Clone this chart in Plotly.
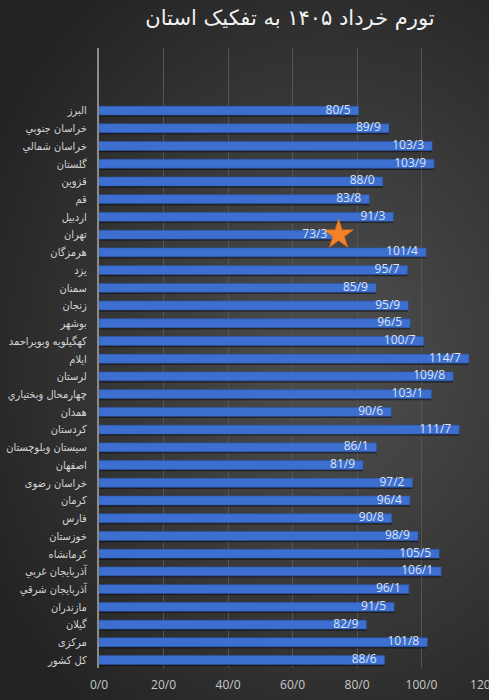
import plotly.graph_objects as go

provinces = ["البرز", "خراسان جنوبي", "خراسان شمالي", "گلستان", "قزوين", "قم", "اردبيل", "تهران",
             "هرمزگان", "يزد", "سمنان", "زنجان", "بوشهر", "کهگيلويه وبويراحمد", "ايلام", "لرستان",
             "چهارمحال وبختياري", "همدان", "کردستان", "سيستان وبلوچستان", "اصفهان", "خراسان رضوی",
             "کرمان", "فارس", "خوزستان", "کرمانشاه", "آذربايجان غربي", "آذربايجان شرقي", "مازندران",
             "گيلان", "مرکزی", "کل کشور"]
inflation = [80.5, 89.9, 103.3, 103.9, 88.0, 83.8, 91.3, 73.3,
             101.4, 95.7, 85.9, 95.9, 96.5, 100.7, 114.7, 109.8,
             103.1, 90.6, 111.7, 86.1, 81.9, 97.2,
             96.4, 90.8, 98.9, 105.5, 106.1, 96.1, 91.5,
             82.9, 101.8, 88.6]
x_ticks = [0, 20, 40, 60, 80, 100, 120]
x_tick_labels = ["0/0", "20/0", "40/0", "60/0", "80/0", "100/0", "120/0"]
highlight = "تهران"
title_text = "تورم خرداد ۱۴۰۵ به تفکیک استان"

labels = [f"{v:.1f}".replace(".", "/") for v in inflation]
label_pad = 2.5  # data units between bar end and its label

fig = go.Figure()
# soft shadow under each bar
fig.add_trace(go.Bar(
    x=inflation, y=provinces, orientation="h",
    width=0.5, offset=-0.15,
    marker=dict(color="rgba(0,0,0,0.45)", line=dict(width=0)),
    hoverinfo="skip",
))
fig.add_trace(go.Bar(
    x=inflation, y=provinces, orientation="h",
    width=0.5, offset=-0.25,
    marker=dict(color="#3d6fd1", line=dict(color="#2c57ad", width=0.6)),
    hoverinfo="skip",
))
hi = provinces.index(highlight)
fig.add_trace(go.Scatter(
    x=[inflation[hi] + 1], y=[provinces[hi]], mode="markers",
    marker=dict(symbol="star", size=22, color="#f2812a", line=dict(color="#e06d18", width=0.8)),
    hoverinfo="skip", cliponaxis=False,
))
fig.add_trace(go.Scatter(
    x=[v - label_pad for v in inflation], y=provinces, mode="text", text=labels,
    textposition="middle left",
    textfont=dict(family="Open Sans, DejaVu Sans", size=12, color="#dde4f0"),
    hoverinfo="skip", cliponaxis=False,
))

shapes = []
n = 40
for i in range(n):
    r = 1.0 - i * 0.022
    cx, cy = 0.6, 0.5
    shapes.append(dict(type="circle", xref="paper", yref="paper",
                       x0=cx - r, x1=cx + r, y0=cy - r * 0.75, y1=cy + r * 0.75,
                       fillcolor="rgba(255,255,255,0.0065)", line=dict(width=0), layer="below"))

fig.update_layout(
    width=489, height=700,
    margin=dict(l=99, r=3, t=48, b=32),
    paper_bgcolor="#222222", plot_bgcolor="rgba(0,0,0,0)",
    showlegend=False,
    barmode="overlay",
    shapes=shapes,
    title=dict(text=title_text, x=0.593, xanchor="center", y=0.975, yanchor="middle",
               font=dict(family="DejaVu Sans", size=21, color="#f2f2f2")),
    xaxis=dict(range=[0, 120], tickvals=x_ticks, ticktext=x_tick_labels,
               showgrid=True, gridcolor="#555555", gridwidth=1, zeroline=False,
               tickfont=dict(family="Open Sans, DejaVu Sans", size=12, color="#c8c8c8"),
               ticks="", ticklabelstandoff=8, fixedrange=True, automargin=False,
               ticklabeloverflow="allow"),
    yaxis=dict(type="category", range=[31.45, -3.53], showgrid=False,
               showline=True, linecolor="#8a8a8a", linewidth=2,
               tickfont=dict(family="DejaVu Sans Condensed, DejaVu Sans", size=11, color="#d4d4d4"),
               ticks="", ticklabelstandoff=8, fixedrange=True, automargin=False),
)

fig.write_html("out.html")
